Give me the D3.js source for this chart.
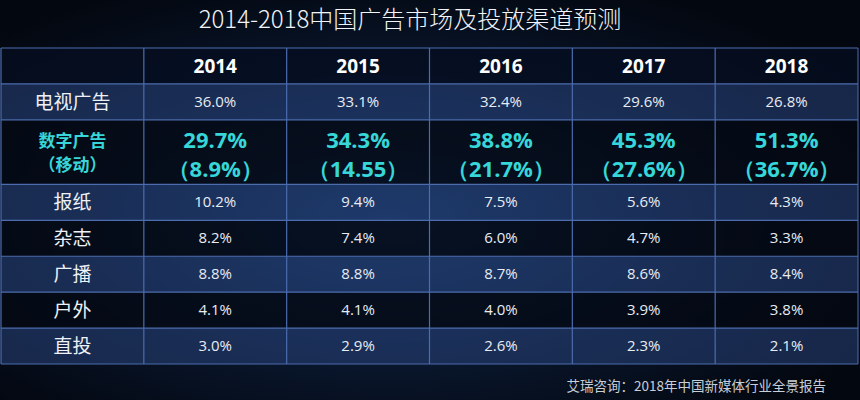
<!DOCTYPE html>
<html><head><meta charset="utf-8">
<script src="https://cdn.jsdelivr.net/npm/d3@7"></script>
<style>body{margin:0;background:#050b16;}svg{display:block;}</style>
</head><body><div id="chart"></div>
<script>
const years = ['2014', '2015', '2016', '2017', '2018']
const channels = ['电视广告', '数字广告', '报纸', '杂志', '广播', '户外', '直投']
const tv = ['36.0%', '33.1%', '32.4%', '29.6%', '26.8%']
const digital = ['29.7%', '34.3%', '38.8%', '45.3%', '51.3%']
const mobile = ['8.9%', '14.55', '21.7%', '27.6%', '36.7%']
const newspaper = ['10.2%', '9.4%', '7.5%', '5.6%', '4.3%']
const magazine = ['8.2%', '7.4%', '6.0%', '4.7%', '3.3%']
const radio = ['8.8%', '8.8%', '8.7%', '8.6%', '8.4%']
const outdoor = ['4.1%', '4.1%', '4.0%', '3.9%', '3.8%']
const direct = ['3.0%', '2.9%', '2.6%', '2.3%', '2.1%']
const rowValues = [tv, digital, newspaper, magazine, radio, outdoor, direct]

const W = 860, H = 400
const svg = d3.select('#chart').append('svg').attr('width', W).attr('height', H)
  .style('font-family', '"Noto Sans CJK SC", "Noto Sans", sans-serif')

// background glow
const defs = svg.append('defs')
const rg = defs.append('radialGradient').attr('id', 'glow').attr('cx', '45%').attr('cy', '55%').attr('r', '65%')
rg.append('stop').attr('offset', '0%').attr('stop-color', '#12305a')
rg.append('stop').attr('offset', '60%').attr('stop-color', '#081428')
rg.append('stop').attr('offset', '100%').attr('stop-color', '#03070f')
svg.append('rect').attr('width', W).attr('height', H).attr('fill', 'url(#glow)')

svg.append('text').attr('x', 410).attr('y', 28).attr('text-anchor', 'middle')
  .attr('fill', '#f2f4f8').attr('font-size', 24).attr('font-weight', 300)
  .text('2014-2018中国广告市场及投放渠道预测')

// columns: label column + years
const x = d3.scaleBand().domain(['label', ...years]).range([1, 858])
// rows: cumulative units (digital row is taller)
const units = [1, 1, 1.8, 1, 1, 1, 1, 1]
const cum = [0]; units.forEach(u => cum.push(cum[cum.length - 1] + u))
const y = d3.scaleLinear().domain([0, cum[cum.length - 1]]).range([48, 364])
const rowTop = i => y(cum[i]), rowH = i => y(cum[i + 1]) - y(cum[i])

const fills = ['rgba(6,14,32,0.75)', 'rgba(40,66,120,0.55)', 'rgba(4,8,18,0.75)']
for (let i = 0; i < units.length; i++) {
  svg.append('rect').attr('x', x.range()[0]).attr('y', rowTop(i))
    .attr('width', x.range()[1] - x.range()[0]).attr('height', rowH(i))
    .attr('fill', i === 0 ? fills[0] : (i % 2 === 1 ? fills[1] : fills[2]))
}

// grid lines
const lineC = '#4c6cae'
for (let i = 0; i <= units.length; i++) {
  svg.append('line').attr('x1', 1).attr('x2', 858).attr('y1', y(cum[i])).attr('y2', y(cum[i]))
    .attr('stroke', lineC).attr('stroke-width', 1.2)
}
x.domain().forEach(d => {
  svg.append('line').attr('x1', x(d)).attr('x2', x(d)).attr('y1', 48).attr('y2', 364)
    .attr('stroke', lineC).attr('stroke-width', 1.2)
})
svg.append('line').attr('x1', 858).attr('x2', 858).attr('y1', 48).attr('y2', 364).attr('stroke', lineC)

// header
years.forEach(yr => {
  svg.append('text').attr('x', x(yr) + x.bandwidth() / 2).attr('y', rowTop(0) + rowH(0) / 2 + 7)
    .attr('text-anchor', 'middle').attr('fill', '#fff').attr('font-weight', 'bold')
    .attr('font-size', 19).attr('font-family', '"Open Sans", sans-serif').text(yr)
})

const cyan = '#37d6d8'
channels.forEach((c, ci) => {
  const r = ci + 1, top = rowTop(r), h = rowH(r), cx = x('label') + x.bandwidth() / 2
  if (ci === 1) {
    svg.append('text').attr('x', cx).attr('y', top + 27).attr('text-anchor', 'middle')
      .attr('fill', cyan).attr('font-weight', 'bold').attr('font-size', 17).text('数字广告')
    svg.append('text').attr('x', cx).attr('y', top + 51).attr('text-anchor', 'middle')
      .attr('fill', cyan).attr('font-weight', 'bold').attr('font-size', 17).text('（移动）')
    years.forEach((yr, j) => {
      const vx = x(yr) + x.bandwidth() / 2
      svg.append('text').attr('x', vx).attr('y', top + 28).attr('text-anchor', 'middle')
        .attr('fill', cyan).attr('font-weight', 'bold').attr('font-size', 22)
        .attr('font-family', '"Open Sans", sans-serif').text(digital[j])
      svg.append('text').attr('x', vx).attr('y', top + 57).attr('text-anchor', 'middle')
        .attr('fill', cyan).attr('font-weight', 'bold').attr('font-size', 22)
        .attr('font-family', '"Open Sans", sans-serif')
        .text('（' + mobile[j] + '）')
    })
  } else {
    svg.append('text').attr('x', cx).attr('y', top + h / 2 + 7).attr('text-anchor', 'middle')
      .attr('fill', '#eef1f6').attr('font-size', 19).text(c)
    years.forEach((yr, j) => {
      svg.append('text').attr('x', x(yr) + x.bandwidth() / 2).attr('y', top + h / 2 + 5)
        .attr('text-anchor', 'middle').attr('fill', '#e8ecf3').attr('font-size', 15)
        .attr('font-family', '"Open Sans", sans-serif').text(rowValues[ci][j])
    })
  }
})

svg.append('text').attr('x', 826).attr('y', 391).attr('text-anchor', 'end')
  .attr('fill', '#c9ced8').attr('font-size', 13.5).text('艾瑞咨询：2018年中国新媒体行业全景报告')
</script></body></html>
